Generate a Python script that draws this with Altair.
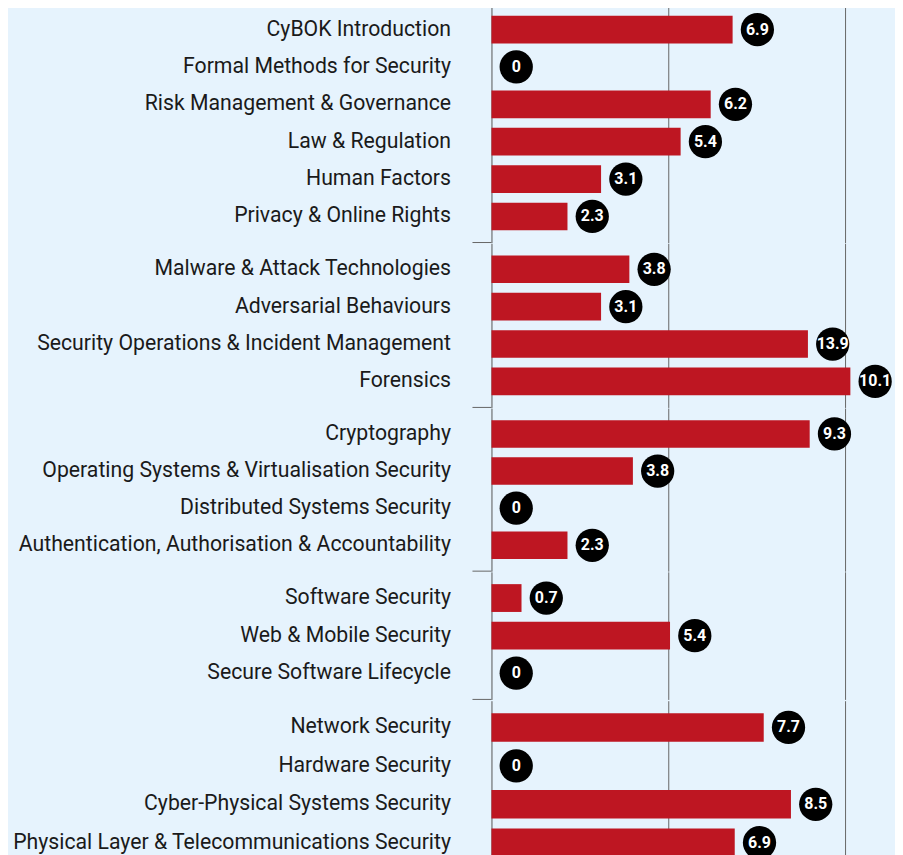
import altair as alt
import pandas as pd

topics = [
    "CyBOK Introduction",
    "Formal Methods for Security",
    "Risk Management & Governance",
    "Law & Regulation",
    "Human Factors",
    "Privacy & Online Rights",
    "Malware & Attack Technologies",
    "Adversarial Behaviours",
    "Security Operations & Incident Management",
    "Forensics",
    "Cryptography",
    "Operating Systems & Virtualisation Security",
    "Distributed Systems Security",
    "Authentication, Authorisation & Accountability",
    "Software Security",
    "Web & Mobile Security",
    "Secure Software Lifecycle",
    "Network Security",
    "Hardware Security",
    "Cyber-Physical Systems Security",
    "Physical Layer & Telecommunications Security",
]
groups = [1, 1, 1, 1, 1, 1, 2, 2, 2, 2, 3, 3, 3, 3, 4, 4, 4, 5, 5, 5, 5]
# bar lengths as drawn in the picture
bar_values = [6.82, 0, 6.2, 5.35, 3.1, 2.15, 3.9, 3.1, 8.95, 10.15, 9.0,
              4.0, 0, 2.15, 0.85, 5.05, 0, 7.7, 0, 8.47, 6.88]
# numbers printed in the circles
label_values = ["6.9", "0", "6.2", "5.4", "3.1", "2.3", "3.8", "3.1", "13.9", "10.1", "9.3",
                "3.8", "0", "2.3", "0.7", "5.4", "0", "7.7", "0", "8.5", "6.9"]

df = pd.DataFrame({"topic": topics, "group": groups, "value": bar_values, "label": label_values})

BG = "#e6f3fd"
RED = "#be1622"
PANEL_HEIGHTS = [239.3, 164.4, 163.3, 127.7, 169]
W = 404
XMAX = W / 35.4
OFF = 24.8

panels = []
for g, H in zip(sorted(set(groups)), PANEL_HEIGHTS):
    sub = df[df["group"] == g]
    y = alt.Y(
        "topic:N",
        sort=list(sub["topic"]),
        scale=alt.Scale(paddingInner=0.26, paddingOuter=0.327),
        axis=alt.Axis(
            title=None, ticks=False, labelPadding=41, labelFontSize=21.25,
            labelFont="Roboto", labelColor="#1a1a1a", labelLimit=0,
            domainColor="#555555", domainWidth=1,
        ),
    )
    x = alt.X(
        "value:Q",
        scale=alt.Scale(domain=[0, XMAX], nice=False, zero=True),
        axis=alt.Axis(
            title=None, labels=False, ticks=False, domain=False,
            values=[5, 10], grid=True, gridColor="#666666", gridWidth=1, gridOpacity=1,
        ),
    )
    base = alt.Chart(sub).encode(y=y)
    bars = base.mark_bar(color=RED).encode(x=x)
    dots = base.mark_circle(size=1110, color="black", opacity=1, xOffset=OFF, clip=True).encode(x="value:Q")
    txt = base.mark_text(
        color="white", font="Roboto", fontWeight="bold", fontSize=16,
        xOffset=OFF, align="center", baseline="middle", clip=True,
    ).encode(x="value:Q", text="label:N")
    sep = alt.Chart(pd.DataFrame({"s": [0]})).mark_rule(color="#666666", strokeWidth=1).encode(
        x=alt.value(-19), x2=alt.value(0), y=alt.value(H)
    )
    panels.append(alt.layer(bars, dots, txt, sep).properties(width=W, height=H))

PAGE_CSS = "body { background: #e6f3fd; }"

chart = (
    alt.vconcat(*panels, spacing=0)
    .properties(
        background=BG,
        padding={"left": 4, "top": -5, "right": 0, "bottom": 0},
        usermeta={"embedOptions": {"defaultStyle": PAGE_CSS}},
    )
    .configure_view(stroke=None)
)

chart.save("out.html", embed_options={"renderer": "svg", "actions": False})
